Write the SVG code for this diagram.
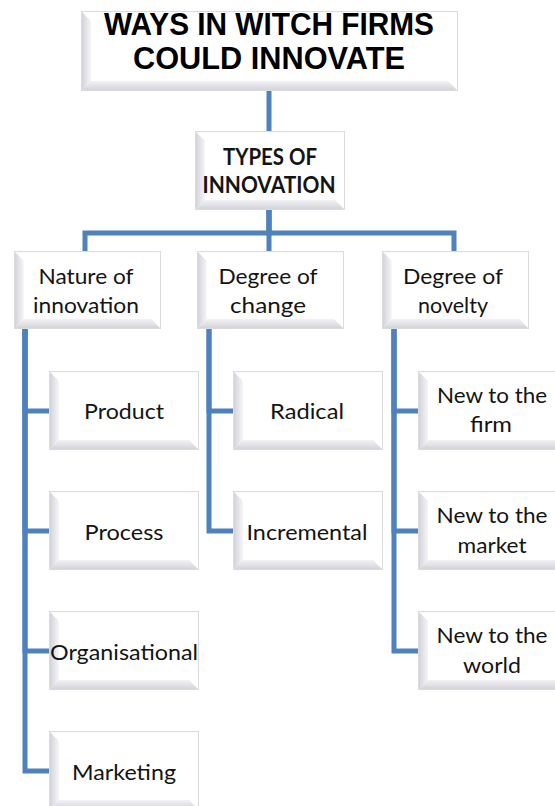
<svg xmlns="http://www.w3.org/2000/svg" xmlns:xlink="http://www.w3.org/1999/xlink" width="555" height="806" viewBox="0 0 555 806">
  <style>
    .lbl { font-family: Lato, "Open Sans", "Liberation Sans", sans-serif; font-size: 22px; fill: #141414; text-anchor: middle; }
    .hdr { font-family: Lato, "Open Sans", "Liberation Sans", sans-serif; font-size: 23px; font-weight: bold; fill: #141414; text-anchor: middle; }
    .ttl { font-family: "Liberation Sans", Arial, sans-serif; font-size: 32px; font-weight: bold; fill: #000; text-anchor: middle; }
    .link { fill: none; stroke: #4f81bd; stroke-width: 5; stroke-linejoin: miter; }
  </style>
  <defs>
    <linearGradient id="bevL" x1="0" y1="0" x2="1" y2="0">
      <stop offset="0" stop-color="#cfcfd8"/>
      <stop offset="1" stop-color="#f6f6f8"/>
    </linearGradient>
    <linearGradient id="bevB" x1="0" y1="0" x2="0" y2="1">
      <stop offset="0" stop-color="#f2f2f5"/>
      <stop offset="1" stop-color="#d0d0d8"/>
    </linearGradient>
    <!-- bevelled button shape, 150 x 79 -->
    <g id="bevel">
      <rect x="0" y="0" width="150" height="79" fill="#ffffff"/>
      <polygon points="0,0 10,10 10,69 0,79" fill="url(#bevL)"/>
      <polygon points="0,79 10,69 140,69 150,79" fill="url(#bevB)"/>
      <polygon points="0,0 150,0 148,2 2,2" fill="#fbfbfc"/>
      <rect x="0.5" y="0.5" width="149" height="78" fill="none" stroke="#dcdcdc" stroke-width="1"/>
    </g>
  </defs>

  <rect width="555" height="806" fill="#ffffff"/>

  <!-- connectors -->
  <g id="connectors">
    <path class="link" d="M269 91 V131"/>
    <path class="link" d="M269 210 V233 H85 V251"/>
    <path class="link" d="M269 210 V251"/>
    <path class="link" d="M269 210 V233 H454 V251"/>
    <path class="link" d="M25 329 V411 H49"/>
    <path class="link" d="M25 329 V531 H49"/>
    <path class="link" d="M25 329 V651 H49"/>
    <path class="link" d="M25 329 V771 H49"/>
    <path class="link" d="M209 329 V411 H233"/>
    <path class="link" d="M209 329 V531 H233"/>
    <path class="link" d="M394 329 V411 H418"/>
    <path class="link" d="M394 329 V531 H418"/>
    <path class="link" d="M394 329 V651 H418"/>
  </g>

  <!-- title -->
  <g id="title">
    <rect x="81" y="11" width="377" height="80" fill="#ffffff"/>
    <polygon points="81,11 91,21 91,81 81,91" fill="url(#bevL)"/>
    <polygon points="81,91 91,81 448,81 458,91" fill="url(#bevB)"/>
    <rect x="81.5" y="11.5" width="376" height="79" fill="none" stroke="#dcdcdc"/>
    <text class="ttl" x="269" y="35" textLength="330" lengthAdjust="spacingAndGlyphs">WAYS IN WITCH FIRMS</text>
    <text class="ttl" x="269" y="69" textLength="272" lengthAdjust="spacingAndGlyphs">COULD INNOVATE</text>
  </g>

  <g id="types">
    <use xlink:href="#bevel" transform="translate(195,131)"/>
    <text class="hdr" x="270" y="165" textLength="94" lengthAdjust="spacingAndGlyphs">TYPES OF</text>
    <text class="hdr" x="269" y="193" textLength="133" lengthAdjust="spacingAndGlyphs">INNOVATION</text>
  </g>

  <!-- second level -->
  <g id="nature">
    <use xlink:href="#bevel" transform="translate(14,251) scale(0.98,0.987)"/>
    <text class="lbl" x="86" y="284" textLength="95" lengthAdjust="spacingAndGlyphs">Nature of</text>
    <text class="lbl" x="86" y="313" textLength="106" lengthAdjust="spacingAndGlyphs">innovation</text>
  </g>
  <g id="change">
    <use xlink:href="#bevel" transform="translate(197,251) scale(0.98,0.987)"/>
    <text class="lbl" x="268" y="284" textLength="99" lengthAdjust="spacingAndGlyphs">Degree of</text>
    <text class="lbl" x="268" y="313" textLength="76" lengthAdjust="spacingAndGlyphs">change</text>
  </g>
  <g id="novelty">
    <use xlink:href="#bevel" transform="translate(382,251) scale(0.98,0.987)"/>
    <text class="lbl" x="453" y="284" textLength="100" lengthAdjust="spacingAndGlyphs">Degree of</text>
    <text class="lbl" x="453" y="313" textLength="70" lengthAdjust="spacingAndGlyphs">novelty</text>
  </g>

  <!-- nature of innovation -->
  <g id="product">
    <use xlink:href="#bevel" transform="translate(49,371)"/>
    <text class="lbl" x="124" y="419" textLength="80" lengthAdjust="spacingAndGlyphs">Product</text>
  </g>
  <g id="process">
    <use xlink:href="#bevel" transform="translate(49,491)"/>
    <text class="lbl" x="124" y="540" textLength="79" lengthAdjust="spacingAndGlyphs">Process</text>
  </g>
  <g id="organisational">
    <use xlink:href="#bevel" transform="translate(49,611)"/>
    <text class="lbl" x="124" y="660" textLength="148" lengthAdjust="spacingAndGlyphs">Organisational</text>
  </g>
  <g id="marketing">
    <use xlink:href="#bevel" transform="translate(49,731)"/>
    <text class="lbl" x="124" y="780" textLength="104" lengthAdjust="spacingAndGlyphs">Marketing</text>
  </g>

  <!-- degree of change -->
  <g id="radical">
    <use xlink:href="#bevel" transform="translate(233,371)"/>
    <text class="lbl" x="307" y="419" textLength="74" lengthAdjust="spacingAndGlyphs">Radical</text>
  </g>
  <g id="incremental">
    <use xlink:href="#bevel" transform="translate(233,491)"/>
    <text class="lbl" x="307" y="540" textLength="121" lengthAdjust="spacingAndGlyphs">Incremental</text>
  </g>

  <!-- degree of novelty -->
  <g id="firm">
    <use xlink:href="#bevel" transform="translate(418,371)"/>
    <text class="lbl" x="492" y="403" textLength="110" lengthAdjust="spacingAndGlyphs">New to the</text>
    <text class="lbl" x="491" y="432" textLength="42" lengthAdjust="spacingAndGlyphs">firm</text>
  </g>
  <g id="market">
    <use xlink:href="#bevel" transform="translate(418,491)"/>
    <text class="lbl" x="492" y="523" textLength="111" lengthAdjust="spacingAndGlyphs">New to the</text>
    <text class="lbl" x="492" y="553" textLength="69" lengthAdjust="spacingAndGlyphs">market</text>
  </g>
  <g id="world">
    <use xlink:href="#bevel" transform="translate(418,611)"/>
    <text class="lbl" x="492" y="643" textLength="111" lengthAdjust="spacingAndGlyphs">New to the</text>
    <text class="lbl" x="492" y="673" textLength="58" lengthAdjust="spacingAndGlyphs">world</text>
  </g>
</svg>
